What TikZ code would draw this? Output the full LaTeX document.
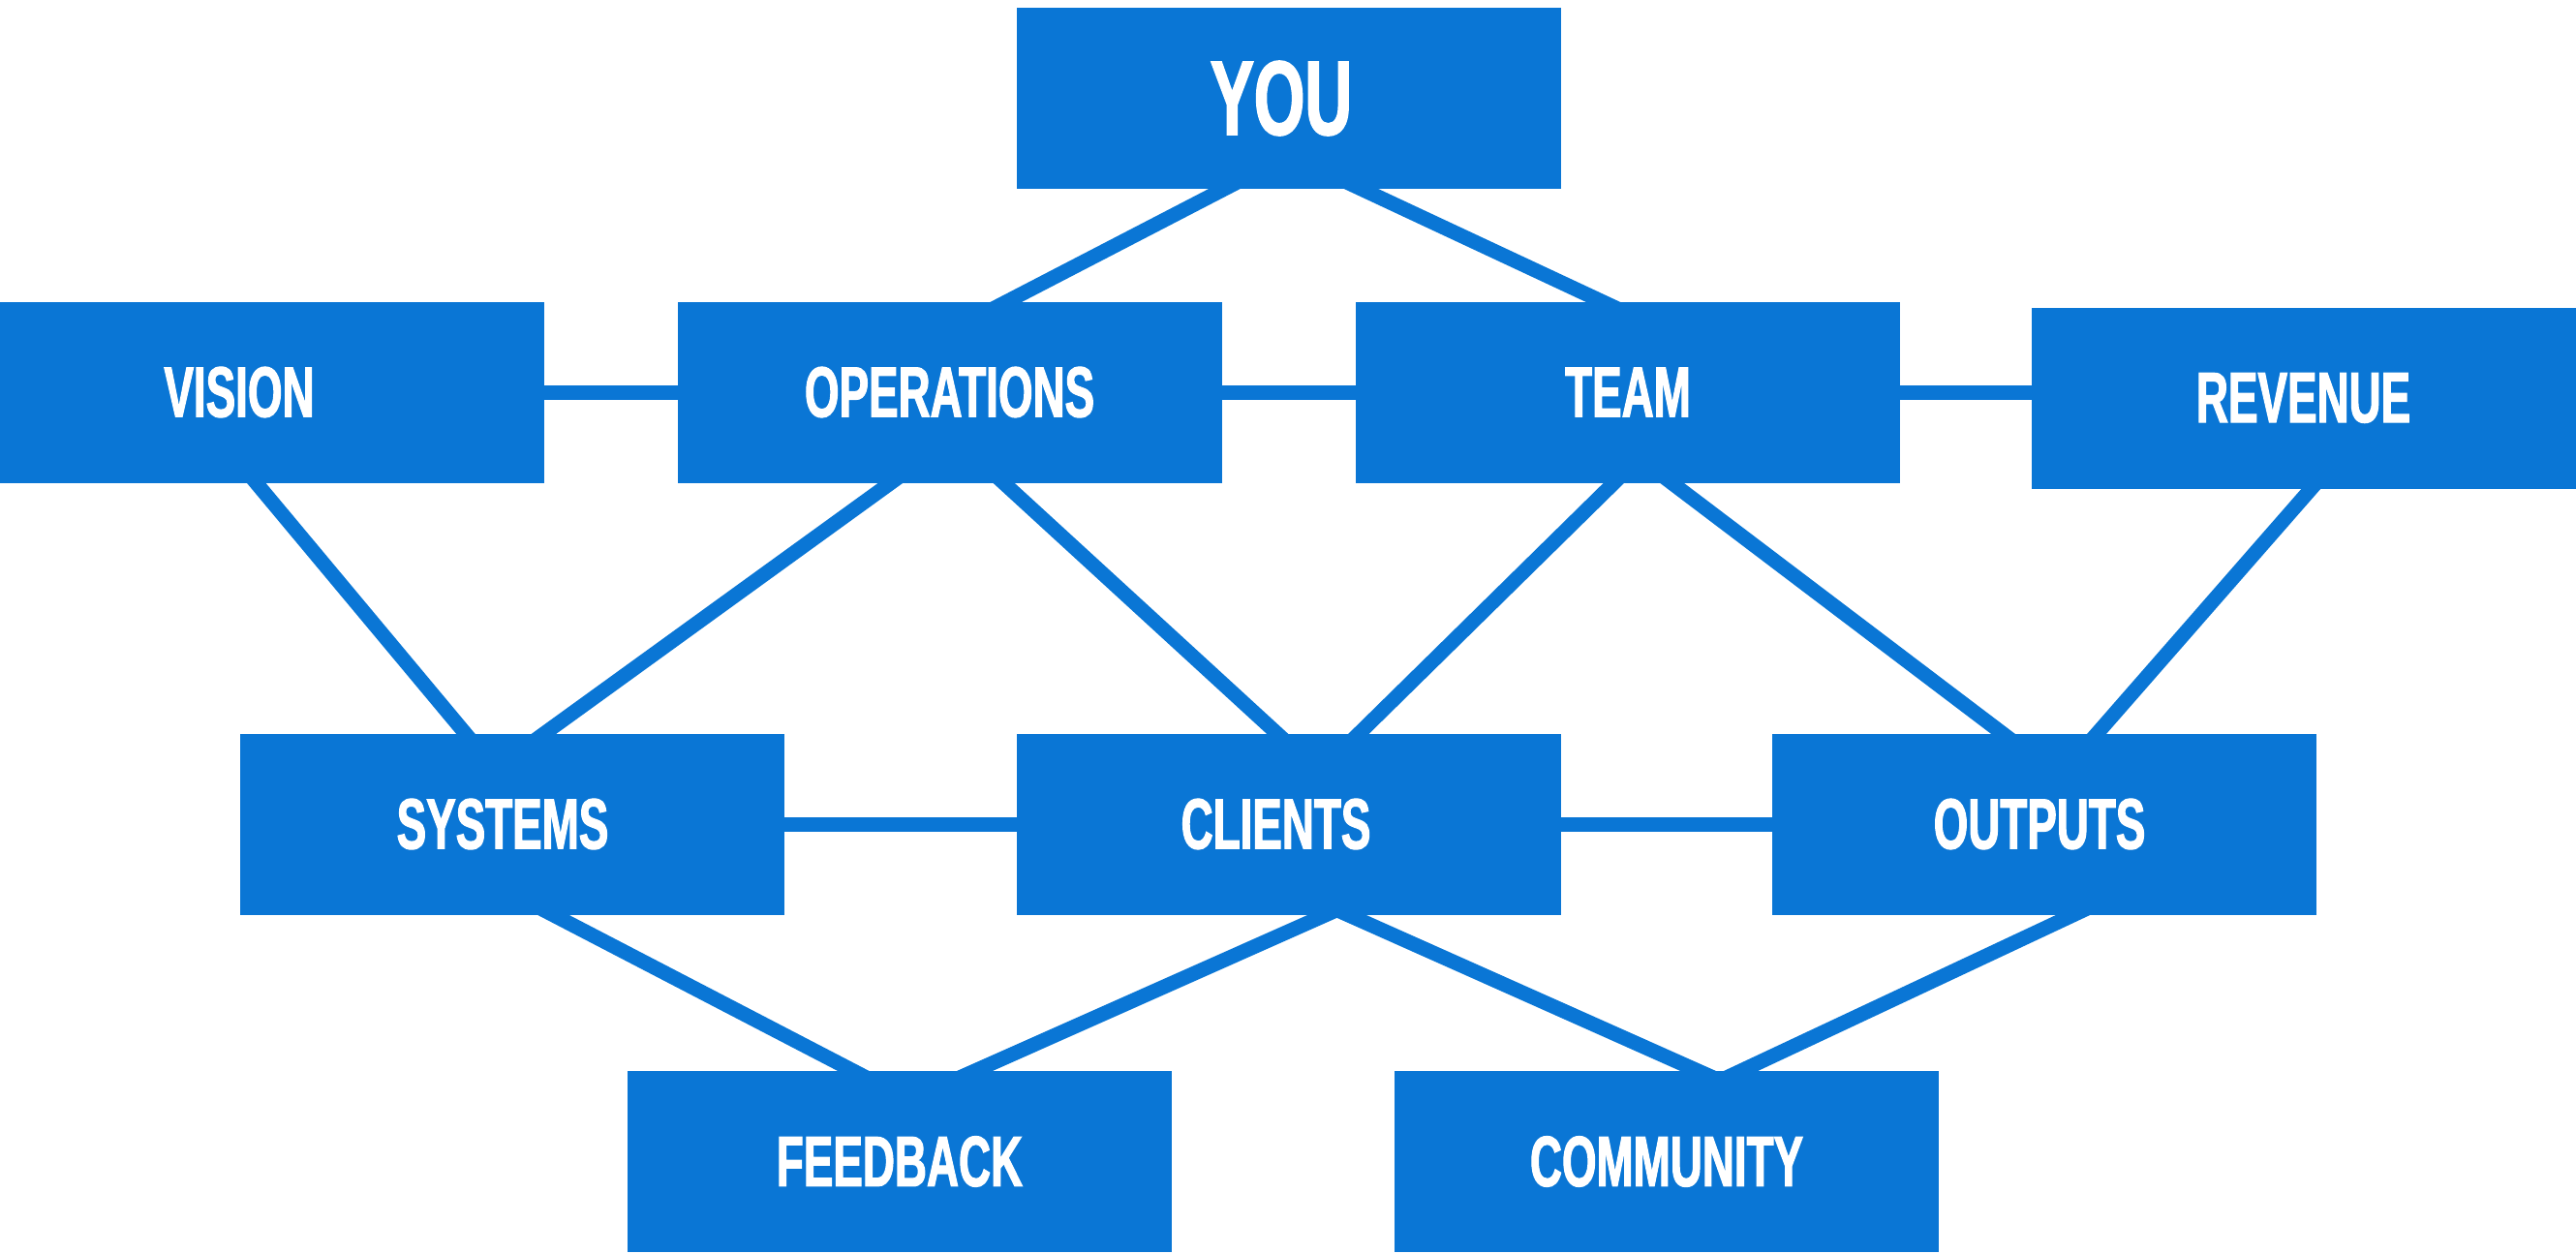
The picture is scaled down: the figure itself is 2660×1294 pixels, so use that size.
\documentclass[tikz,border=0pt]{standalone}
\usepackage{fontspec}
\newfontfamily\lblfont{Liberation Sans}[FakeStretch=0.62, FakeBold=1.5]
\usetikzlibrary{calc,backgrounds}
\definecolor{boxblue}{RGB}{10,118,213}
\tikzset{
  box/.style={rectangle, fill=boxblue, draw=none, inner sep=0pt,
    minimum width=56.2mm, minimum height=18.7mm, text=white,
    font=\lblfont\bfseries\fontsize{21}{21}\selectfont},
  bigbox/.style={box, font=\lblfont\bfseries\fontsize{31}{31}\selectfont},
  link/.style={draw=boxblue, line width=1.5mm, line cap=butt}
}
\newcommand{\lnk}[2]{\draw[link] ($(#1)!-2.5mm!(#2)$) -- ($(#2)!-2.5mm!(#1)$);}
\newcommand{\txtshift}[2]{\kern-#1\relax #2}
\begin{document}
\begin{tikzpicture}[x=0.1mm, y=-0.1mm]
\useasboundingbox (0,0) rectangle (2660,1294);
\clip (0,0) rectangle (2660,1294);
% top
\node[bigbox] (you) at (1331,101.5) {\txtshift{1.6mm}{YOU}};
% row 2
\node[box, minimum width=63mm] (vision) at (247,405) {VISION};
\node[box] (ops) at (980.5,405) {OPERATIONS};
\node[box] (team) at (1681,405) {TEAM};
\node[box] (revenue) at (2378.5,411) {REVENUE};
% row 3
\node[box] (systems) at (529,851) {\txtshift{2mm}{SYSTEMS}};
\node[box] (clients) at (1330.5,851) {\txtshift{2.6mm}{CLIENTS}};
\node[box] (outputs) at (2111,851) {\txtshift{1mm}{OUTPUTS}};
% row 4
\node[box] (feedback) at (929,1199.5) {FEEDBACK};
\node[box] (community) at (1721,1199.5) {COMMUNITY};

\begin{pgfonlayer}{background}
% horizontal connectors
\lnk{vision.east}{ops.west}
\lnk{ops.east}{team.west}
\coordinate (rw) at (team.east -| revenue.west);
\lnk{team.east}{rw}
\lnk{systems.east}{clients.west}
\lnk{clients.east}{outputs.west}
% you
\coordinate (a1) at ([xshift=-6.8mm]you.south);
\coordinate (b1) at ([xshift=6.05mm]ops.north);
\lnk{a1}{b1}
\coordinate (a2) at ([xshift=7.6mm]you.south);
\coordinate (b2) at ([xshift=-2.8mm]team.north);
\lnk{a2}{b2}
% row 2 -> row 3
\coordinate (a3) at ([xshift=1.8mm]vision.south);
\coordinate (b3) at ([xshift=-4.9mm]systems.north);
\lnk{a3}{b3}
\coordinate (a4) at ([xshift=-6.15mm]ops.south);
\coordinate (b4) at ([xshift=3.4mm]systems.north);
\lnk{a4}{b4}
\coordinate (a5) at ([xshift=5.65mm]ops.south);
\coordinate (b5) at ([xshift=-1.25mm]clients.north);
\lnk{a5}{b5}
\coordinate (a6) at ([xshift=-1.5mm]team.south);
\coordinate (b6) at ([xshift=7.35mm]clients.north);
\lnk{a6}{b6}
\coordinate (a7) at ([xshift=4.6mm]team.south);
\coordinate (b7) at ([xshift=-4.4mm]outputs.north);
\lnk{a7}{b7}
\coordinate (a8) at ([xshift=0.75mm]revenue.south);
\coordinate (b8) at ([xshift=5.5mm]outputs.north);
\lnk{a8}{b8}
% row 3 -> row 4
\coordinate (a9) at ([xshift=4.3mm]systems.south);
\coordinate (b9) at ([xshift=-4.9mm]feedback.north);
\lnk{a9}{b9}
\coordinate (a10) at ([xshift=3.75mm]clients.south);
\coordinate (b10) at ([xshift=7.9mm]feedback.north);
\lnk{a10}{b10}
\coordinate (a11) at ([xshift=6.25mm]clients.south);
\coordinate (b11) at ([xshift=3.1mm]community.north);
\lnk{a11}{b11}
\coordinate (a12) at ([xshift=2.9mm]outputs.south);
\coordinate (b12) at ([xshift=7.8mm]community.north);
\lnk{a12}{b12}
\end{pgfonlayer}
\end{tikzpicture}
\end{document}
